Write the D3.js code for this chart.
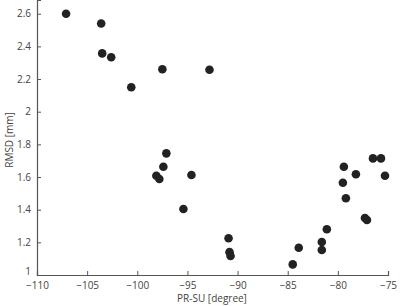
<!DOCTYPE html>
<html>
<head>
<meta charset="utf-8">
<script src="https://cdn.jsdelivr.net/npm/d3@7"></script>
<style>
  body { margin: 0; background: #fff; }
  svg text { font-family: "Open Sans", "Noto Sans", sans-serif; fill: #444; }
</style>
</head>
<body>
<div id="chart"></div>
<script>
// PR-SU angle vs RMSD
const prsu = [-107.1, -103.6, -103.5, -102.6, -100.6, -97.5, -92.8,
              -97.1, -97.4, -98.1, -97.8, -94.6, -95.4,
              -90.9, -90.8, -90.7, -84.5, -83.9, -81.6, -81.6, -81.1,
              -79.4, -79.5, -79.2, -78.2, -77.3, -77.1, -76.5, -75.7, -75.3];
const rmsd = [2.60, 2.54, 2.357, 2.333, 2.15, 2.26, 2.257,
              1.745, 1.663, 1.608, 1.588, 1.612, 1.404,
              1.225, 1.14, 1.116, 1.065, 1.167, 1.202, 1.153, 1.28,
              1.663, 1.565, 1.47, 1.617, 1.349, 1.337, 1.714, 1.714, 1.608];
const xTicks = [-110, -105, -100, -95, -90, -85, -80, -75];
const yTicks = [1, 1.2, 1.4, 1.6, 1.8, 2, 2.2, 2.4, 2.6];

const data = prsu.map((x, i) => ({ x: x, y: rmsd[i] }));

const width = 404, height = 306;
const svg = d3.select("#chart").append("svg")
    .attr("width", width)
    .attr("height", height);

const xScale = d3.scaleLinear().domain([-110, -75]).range([37, 388]);
const yScale = d3.scaleLinear().domain([1, 2.684]).range([275, 0]);

// Axes (ticks point inward)
const xAxis = svg.append("g")
    .attr("transform", "translate(0,275)")
    .call(d3.axisBottom(xScale).tickValues(xTicks).tickSize(-4).tickPadding(7)
        .tickFormat(d => d3.format("d")(d)));
const yAxis = svg.append("g")
    .attr("transform", "translate(37,0)")
    .call(d3.axisLeft(yScale).tickValues(yTicks).tickSize(-4).tickPadding(6)
        .tickFormat(d3.format("~g")));

[xAxis, yAxis].forEach(g => {
    g.select(".domain").attr("stroke", "#555").attr("stroke-width", 1.2);
    g.selectAll(".tick line").attr("stroke", "#555");
    g.selectAll(".tick text").attr("font-size", 10).attr("fill", "#444");
});
// lowest y label sits just above the x labels
yAxis.selectAll(".tick text").filter(d => d === 1).attr("dy", "-0.05em");

// Axis labels
svg.append("text")
    .attr("x", 212)
    .attr("y", 302)
    .attr("text-anchor", "middle")
    .attr("font-size", 10)
    .text("PR-SU [degree]");

svg.append("text")
    .attr("transform", "rotate(-90)")
    .attr("x", -140)
    .attr("y", 13)
    .attr("text-anchor", "middle")
    .attr("font-size", 10)
    .text("RMSD [mm]");

// Points
svg.selectAll(".pt")
    .data(data)
    .enter()
    .append("circle")
    .attr("class", "pt")
    .attr("cx", d => xScale(d.x))
    .attr("cy", d => yScale(d.y))
    .attr("r", 4.3)
    .attr("fill", "#222");
</script>
</body>
</html>
